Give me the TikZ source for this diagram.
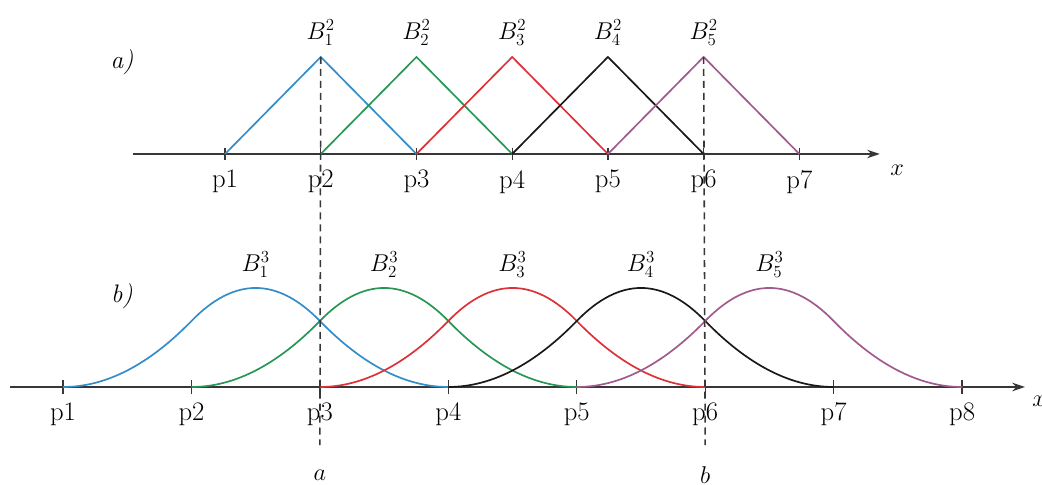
\documentclass[tikz,border=0pt]{standalone}
\usepackage{amsmath}
\usepackage{fontspec}
\usepackage{tikz}
\usetikzlibrary{
    positioning,
    arrows.meta
}
\definecolor{bblue}{RGB}{52,140,200}
\definecolor{bgreen}{RGB}{40,150,85}
\definecolor{bred}{RGB}{220,50,55}
\definecolor{bblack}{RGB}{25,25,25}
\definecolor{bpurple}{RGB}{160,90,140}
\definecolor{axisgray}{RGB}{55,55,55}
\tikzset{
    >=Stealth,
    axis/.style={
        draw=axisgray,
        line width=1.3pt,
        -{Stealth[length=9pt,width=6pt]}
    },
    knot/.style={
        draw=axisgray,
        line width=0.9pt
    },
    curve/.style={
        line width=1.2pt,
        line join=round
    },
    plabel/.style={
        inner sep=0pt,
        font=\fontsize{19}{22}\selectfont
    },
    blabel/.style={
        inner sep=0pt,
        font=\fontsize{18}{21}\selectfont
    },
    guide/.style={
        draw=axisgray,
        line width=1.1pt,
        dash pattern=on 5pt off 3.5pt
    }
}

\begin{document}
\begin{tikzpicture}[
    x=0.025cm,
    y=0.025cm
]
\useasboundingbox (0,0) rectangle (1042,485);

    % a) grado 2
    \begin{scope}[shift={(129.3,331)}, x=2.3925cm, y=2.425cm]
        \draw[axis] (0.04,0) -- (7.84,0);
        \node[blabel] (xa) at (8.02,-0.17) {$x$};
        \foreach \k in {1,...,7} {
            \coordinate (a\k) at (\k,0);
            \draw[knot] (\k,0.065) -- (\k,-0.065);
            \node[plabel, below=0.4cm of a\k, anchor=north] (la\k) {p\k};
        }
        \foreach \i/\c in {1/bblue, 2/bgreen, 3/bred, 4/bblack, 5/bpurple} {
            \draw[curve, \c] (\i,0) -- (\i+1,1) coordinate (ta\i) -- (\i+2,0);
            \node[blabel, above=0.28cm of ta\i] (ba\i) {$B_{\i}^{2}$};
        }
    \end{scope}
    \node[blabel] (lbla) at (122,423) {\textit{a)}};

    % b) grado 3
    \begin{scope}[shift={(-65.4,98)}, x=3.21cm, y=3.3cm]
        \draw[axis] (0.587,0) -- (8.49,0);
        \node[blabel] (xb) at (8.6,-0.11) {$x$};
        \foreach \k in {1,...,8} {
            \coordinate (b\k) at (\k,0);
            \draw[knot] (\k,0.053) -- (\k,-0.053);
            \node[plabel, below=0.38cm of b\k, anchor=north] (lb\k) {p\k};
        }
        \foreach \i/\c in {1/bblue, 2/bgreen, 3/bred, 4/bblack, 5/bpurple} {
            \draw[curve, \c] (\i,0)
                .. controls (\i+1/3,0) and (\i+2/3,1/6) .. (\i+1,1/2)
                .. controls (\i+4/3,5/6) and (\i+5/3,5/6) .. (\i+2,1/2)
                .. controls (\i+7/3,1/6) and (\i+8/3,0) .. (\i+3,0);
            \coordinate (tb\i) at (\i+1.5,0.75);
            \node[blabel, above=0.26cm of tb\i] (bb\i) {$B_{\i}^{3}$};
        }
        \coordinate (da) at (3,-0.44);
        \coordinate (db) at (6,-0.44);
        \node[blabel] (lblinfa) at (3,-0.67) {$a$};
        \node[blabel] (lblinfb) at (6,-0.67) {$b$};
    \end{scope}
    \node[blabel] (lblb) at (122,189) {\textit{b)}};

    % Lineas de corte
    \draw[guide] (ta1) -- (da);
    \draw[guide] (ta5) -- (db);

\end{tikzpicture}
\end{document}
